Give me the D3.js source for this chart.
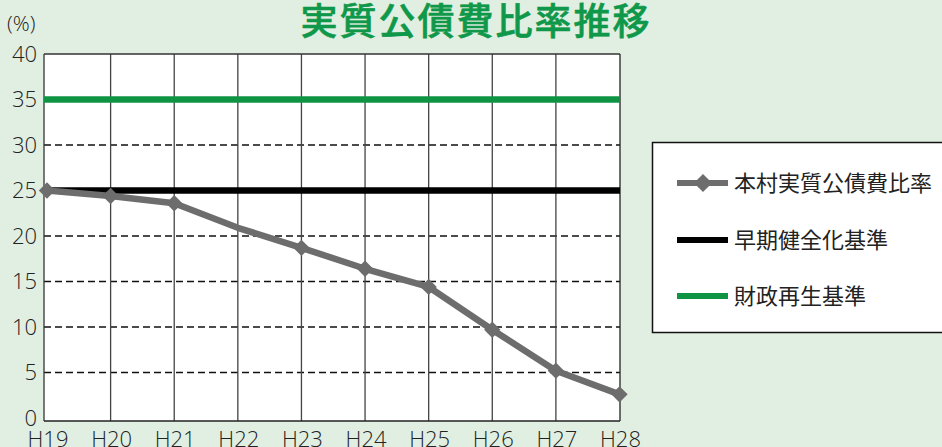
<!DOCTYPE html>
<html><head><meta charset="utf-8">
<script src="https://cdn.jsdelivr.net/npm/d3@7"></script>
<style>html,body{margin:0;padding:0;background:#e1efe2;}svg{display:block;}</style>
</head><body>
<svg id="c" width="942" height="447"></svg>
<script>
const categories = ["H19","H20","H21","H22","H23","H24","H25","H26","H27","H28"];
const ratioValues = [25.0,24.4,23.6,20.9,18.7,16.4,14.4,9.7,5.2,2.6];
const showMarker = [true,true,true,false,true,true,true,true,true,true];
const earlyStandard = 25;
const rebuildStandard = 35;
const yTicks = [0,5,10,15,20,25,30,35,40];
const dashedTicks = [5,10,15,20,30];
const title = "実質公債費比率推移";
const legendLabels = ["本村実質公債費比率","早期健全化基準","財政再生基準"];

const svg = d3.select("#c");
const font = "'Noto Sans CJK JP','Noto Sans',sans-serif";
const numFont = "'Open Sans','Noto Sans',sans-serif";
const L = 44, R = 620, T = 54, B = 421;
const x = d3.scalePoint().domain(categories).range([47, 619.5]);
const y = d3.scaleLinear().domain([0,40]).range([418, 54]);

svg.append("rect").attr("width",942).attr("height",447).attr("fill","#e1efe2");
svg.append("rect").attr("x",L).attr("y",T).attr("width",R-L).attr("height",B-T).attr("fill","#fff");

svg.append("g").selectAll("line").data(dashedTicks).join("line")
  .attr("x1",L).attr("x2",R).attr("y1",d=>y(d)).attr("y2",d=>y(d))
  .attr("stroke","#111").attr("stroke-width",1.5).attr("stroke-dasharray","7,4");
svg.append("g").selectAll("line").data(categories.slice(1,-1)).join("line")
  .attr("x1",d=>x(d)).attr("x2",d=>x(d)).attr("y1",T).attr("y2",B)
  .attr("stroke","#444").attr("stroke-width",1.3);

svg.append("line").attr("x1",L).attr("x2",R).attr("y1",T).attr("y2",T).attr("stroke","#333").attr("stroke-width",1.3);
svg.append("line").attr("x1",L).attr("x2",L).attr("y1",T).attr("y2",B).attr("stroke","#333").attr("stroke-width",1.3);
svg.append("line").attr("x1",R).attr("x2",R).attr("y1",T).attr("y2",B).attr("stroke","#222").attr("stroke-width",1.3);
svg.append("line").attr("x1",L).attr("x2",R).attr("y1",B).attr("y2",B).attr("stroke","#222").attr("stroke-width",1.5);

svg.append("line").attr("x1",L).attr("x2",R).attr("y1",y(rebuildStandard)).attr("y2",y(rebuildStandard))
  .attr("stroke","#0f9444").attr("stroke-width",6.5);
svg.append("line").attr("x1",L).attr("x2",R).attr("y1",y(earlyStandard)).attr("y2",y(earlyStandard))
  .attr("stroke","#000").attr("stroke-width",6.5);

const line = d3.line().x((d,i)=>x(categories[i])).y(d=>y(d));
svg.append("path").datum(ratioValues).attr("d",line).attr("fill","none")
  .attr("stroke","#6d6d6d").attr("stroke-width",6.5).attr("stroke-linejoin","round");
const diamond = d3.symbol().type(d3.symbolDiamond2).size(170);
svg.append("g").selectAll("path").data(ratioValues.map((v,i)=>({v,i})).filter(d=>showMarker[d.i])).join("path")
  .attr("d",diamond).attr("transform",d=>`translate(${x(categories[d.i])},${y(d.v)})`)
  .attr("fill","#6d6d6d");

svg.append("g").selectAll("text").data(yTicks).join("text")
  .attr("x",37).attr("y",d=>y(d)).attr("dy","0.36em").attr("text-anchor","end")
  .attr("font-family",numFont).attr("font-weight",300).attr("font-size",22).attr("fill","#222").text(d=>d);
svg.append("text").attr("x",7).attr("y",31).attr("font-family",numFont).attr("font-weight",300).attr("font-size",21).attr("fill","#222").text("(%)");

svg.append("g").selectAll("text").data(categories).join("text")
  .attr("x",d=>x(d)+1).attr("y",447).attr("text-anchor","middle")
  .attr("font-family",numFont).attr("font-weight",300).attr("font-size",22).attr("fill","#222").text(d=>d);

svg.append("text").attr("x",476).attr("y",35).attr("text-anchor","middle")
  .attr("font-family",font).attr("font-weight",500).attr("font-size",37).attr("letter-spacing",2)
  .attr("fill","#0f984a").attr("stroke","#0f984a").attr("stroke-width",0.6).text(title);

svg.append("rect").attr("x",652.5).attr("y",142.5).attr("width",300).attr("height",190)
  .attr("fill","#fff").attr("stroke","#111").attr("stroke-width",1.5);
const ly = [183, 240, 296];
const lcol = ["#6d6d6d","#000","#0f9444"];
const ldiamond = d3.symbol().type(d3.symbolDiamond2).size(210);
ly.forEach((yy,i)=>{
  svg.append("line").attr("x1",677).attr("x2",728).attr("y1",yy).attr("y2",yy).attr("stroke",lcol[i]).attr("stroke-width",6);
  if(i===0) svg.append("path").attr("d",ldiamond).attr("transform",`translate(703,${yy})`).attr("fill",lcol[0]);
  svg.append("text").attr("x",734).attr("y",yy).attr("dy","0.36em").attr("font-family",font)
    .attr("font-size",22).attr("fill","#222").text(legendLabels[i]);
});
</script>
</body></html>
